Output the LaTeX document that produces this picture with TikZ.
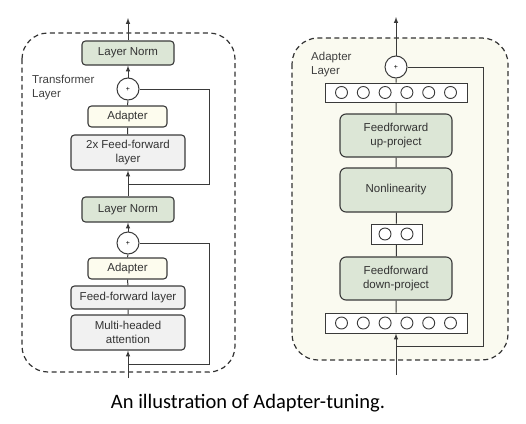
\documentclass[tikz,border=0pt]{standalone}
\usepackage{fontspec}
\setmainfont{Liberation Sans}
\newfontfamily\capfont{Carlito}
\usetikzlibrary{positioning}
\definecolor{normgreen}{HTML}{DCE6D6}
\definecolor{adaptyellow}{HTML}{FDFCEE}
\definecolor{boxgrey}{HTML}{F1F1F1}
\definecolor{panelcream}{HTML}{FAFAF0}
\definecolor{linegrey}{HTML}{3A3A3A}

\begin{document}
\begin{tikzpicture}[
        x=1pt,y=-1pt,
        >=latex,
        blk/.style={draw=linegrey,line width=1.1pt,rounded corners=3.5pt,inner sep=0pt,align=center,font=\fontsize{11.5}{13.5}\selectfont\color{black!80}},
        norm/.style={blk,fill=normgreen,minimum width=92,minimum height=24},
        adapt/.style={blk,fill=adaptyellow,minimum width=79,minimum height=21},
        ffn/.style={blk,fill=boxgrey,minimum width=114},
        proj/.style={blk,fill=normgreen,minimum width=112,minimum height=43,rounded corners=6pt},
        plus/.style={draw=linegrey,line width=1pt,fill=white,circle,inner sep=0pt,minimum size=22,font=\scriptsize},
        vec/.style={draw=linegrey,line width=1pt,fill=white,inner sep=0pt},
        unit/.style={draw=linegrey,line width=0.9pt,circle,inner sep=0pt,minimum size=12},
        wire/.style={draw=linegrey,line width=1pt},
        panel/.style={draw=black!80,line width=1.2pt,dash pattern=on 5pt off 3.5pt,rounded corners=26pt}
    ]
    \useasboundingbox (0,0) rectangle (526,423);
    % panels
    \draw[panel] (22,33) rectangle (235,372);
    \draw[panel,fill=panelcream] (292,38) rectangle (508,360);

    % transformer layer
    \node[norm] (ln2) at (128,53) {Layer Norm};
    \node[plus] (plusA) at (128,89) {+};
    \node[adapt] (adA) at (127.5,116.5) {Adapter};
    \node[ffn,minimum height=35] (ff2) at (128,152.5) {2x Feed-forward\\layer};
    \node[norm,minimum height=25] (ln1) at (128,209.5) {Layer Norm};
    \node[plus] (plusB) at (128,243) {+};
    \node[adapt] (adB) at (127.5,268.5) {Adapter};
    \node[ffn,minimum height=23] (ff1) at (128,297.5) {Feed-forward layer};
    \node[ffn,minimum height=35] (mha) at (128,332.5) {Multi-headed\\attention};
    \node[align=left,anchor=north west,inner sep=0pt,font=\fontsize{11.5}{13.5}\selectfont\color{black!75}] (tlabel) at (32,75) {Transformer\\Layer};
    \coordinate (inL) at (128,378);
    \coordinate (outL) at (128,18);
    \coordinate (skipA) at (128,184);
    \coordinate (skipB) at (128,364);

    \draw[wire,->] (ln2) -- (outL);
    \draw[wire,->] (plusA) -- (ln2);
    \draw[wire] (adA) -- (plusA) (ff2) -- (adA);
    \draw[wire,->] (ln1) -- (ff2);
    \draw[wire] (plusA.east) -| (209,184) -- (skipA);
    \draw[wire,->] (plusB) -- (ln1);
    \draw[wire] (adB) -- (plusB) (ff1) -- (adB) (mha) -- (ff1);
    \draw[wire] (plusB.east) -| (209,364) -- (skipB);
    \draw[wire,->] (inL) -- (mha);

    % adapter layer
    \node[plus] (plusR) at (396,67) {+};
    \node[vec,minimum width=142,minimum height=19] (upvec) at (396,92.5) {};
    \node[proj] (up) at (396,135.5) {Feedforward\\up-project};
    \node[proj,minimum height=44] (nonlin) at (396,190) {Nonlinearity};
    \node[vec,minimum width=51,minimum height=20] (mid) at (396.5,234) {};
    \node[proj] (down) at (396,278.5) {Feedforward\\down-project};
    \node[vec,minimum width=142,minimum height=20] (dnvec) at (396,323) {};
    \node[align=left,anchor=north west,inner sep=0pt,font=\fontsize{11.5}{13.5}\selectfont\color{black!75}] (alabel) at (311,52) {Adapter\\Layer};
    \foreach \i in {0,...,5} {
        \node[unit] (u\i) at (341.5+\i*21.8,92.5) {};
        \node[unit] (d\i) at (341.5+\i*21.8,323) {};
    }
    \node[unit] (m0) at (385,234) {};
    \node[unit] (m1) at (407,234) {};
    \coordinate (inR) at (396,375);
    \coordinate (outR) at (396,17);
    \coordinate (skipR) at (396,346);

    \draw[wire,->] (plusR) -- (outR);
    \draw[wire] (upvec) -- (plusR) (up) -- (upvec) (nonlin) -- (up) (mid) -- (nonlin) (down) -- (mid) (dnvec) -- (down);
    \draw[wire] (plusR.east) -| (483,346) -- (skipR);
    \draw[wire,->] (inR) -- (dnvec);

    % caption
    \node[font=\capfont\fontsize{20.5}{24}\selectfont] (caption) at (248,403) {An illustration of Adapter-tuning.};
\end{tikzpicture}
\end{document}
